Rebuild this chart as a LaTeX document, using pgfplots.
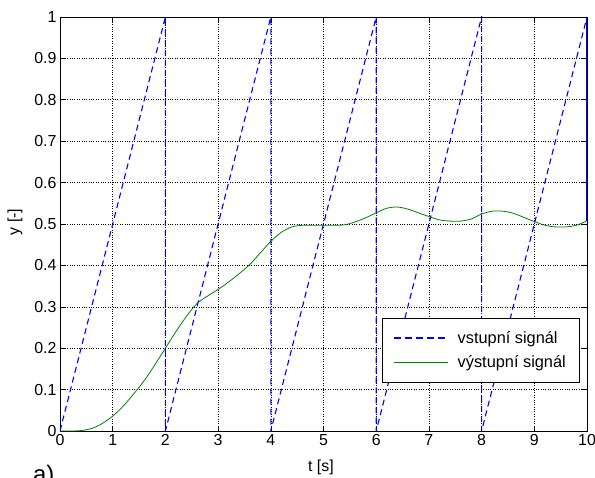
\documentclass[border=0pt]{standalone}
\usepackage{fontspec}
\setmainfont{Liberation Sans}
\usepackage{pgfplots}
\pgfplotsset{compat=1.18}
\definecolor{mlblue}{RGB}{0,0,255}
\definecolor{mlgreen}{RGB}{0,128,0}

\begin{document}
\begin{tikzpicture}[x=1bp,y=1bp]
\begin{axis}[
  at={(0,0)}, anchor=south west,
  scale only axis,
  width=527bp, height=414bp,
  xmin=0, xmax=10, ymin=0, ymax=1,
  xtick={0,1,...,10},
  ytick={0,0.1,...,1},
  yticklabel style={/pgf/number format/fixed},
  /pgf/number format/assume math mode=true,
  tick label style={font=\fontsize{16}{16}\selectfont},
  tick align=inside,
  tick style={black, line width=0.6pt},
  major tick length=5bp,
  xtick pos=both, ytick pos=both,
  axis line style={black, line width=0.6pt},
  grid=major,
  grid style={black, dotted, line width=0.6pt},
  xlabel={t [s]}, ylabel={y [-]},
  label style={font=\fontsize{16}{16}\selectfont},
  xlabel style={at={(axis description cs:0.495,-0.097)}, anchor=base},
  ylabel style={at={(axis description cs:-0.0854,0.505)}, anchor=center},
  legend style={at={(axis cs:9.85,0.273)}, anchor=north east,
    font=\fontsize{16.4}{16.4}\selectfont, draw=black, line width=0.6pt,
    row sep=7bp, column sep=7bp, inner xsep=11bp, inner ysep=11bp},
  legend cell align=left,
]
\addplot[mlblue, line width=1.1pt, dash pattern=on 6bp off 4bp,
  legend image code/.code={\draw[mlblue, line width=1.3pt, dash pattern=on 7bp off 4bp] (0bp,0bp) -- (54bp,0bp);}] coordinates {
  (0,0) (2,1) (2,0) (4,1) (4,0) (6,1) (6,0) (8,1) (8,0) (10,1)
};
\addlegendentry{vstupní signál}
\addplot[mlgreen, line width=0.8pt, smooth,
  legend image code/.code={\draw[mlgreen, line width=1.1pt] (0bp,0bp) -- (54bp,0bp);}] coordinates {
  (0,0) (0.2,0) (0.4,0.001) (0.6,0.006) (0.8,0.018) (1.0,0.036) (1.2,0.06)
  (1.4,0.09) (1.6,0.122) (1.8,0.16) (2.0,0.2) (2.2,0.24) (2.4,0.277)
  (2.6,0.308) (2.8,0.326) (3.0,0.342) (3.2,0.36) (3.4,0.38) (3.6,0.402)
  (3.8,0.43) (4.0,0.458) (4.2,0.48) (4.4,0.493) (4.6,0.497) (4.8,0.497)
  (5.0,0.497) (5.2,0.497) (5.4,0.498) (5.6,0.505) (5.8,0.515) (6.0,0.527)
  (6.2,0.538) (6.4,0.541) (6.6,0.536) (6.8,0.527) (7.0,0.518) (7.2,0.51)
  (7.4,0.507) (7.6,0.507) (7.8,0.512) (8.0,0.524) (8.2,0.531) (8.4,0.531)
  (8.6,0.526) (8.8,0.516) (9.0,0.506) (9.2,0.497) (9.4,0.493) (9.6,0.493)
  (9.8,0.497) (10.0,0.508)
};
\addlegendentry{výstupní signál}
\addplot[mlblue, solid, line width=1.4pt, forget plot] coordinates {(10,1) (10,0.508)};
\end{axis}
\node[anchor=north west, inner sep=0pt, font=\fontsize{24}{24}\selectfont] at (-27bp,-34bp) {a)};
\pgfresetboundingbox
\useasboundingbox (-60bp,-47bp) rectangle (535bp,431bp);
\end{tikzpicture}
\end{document}
